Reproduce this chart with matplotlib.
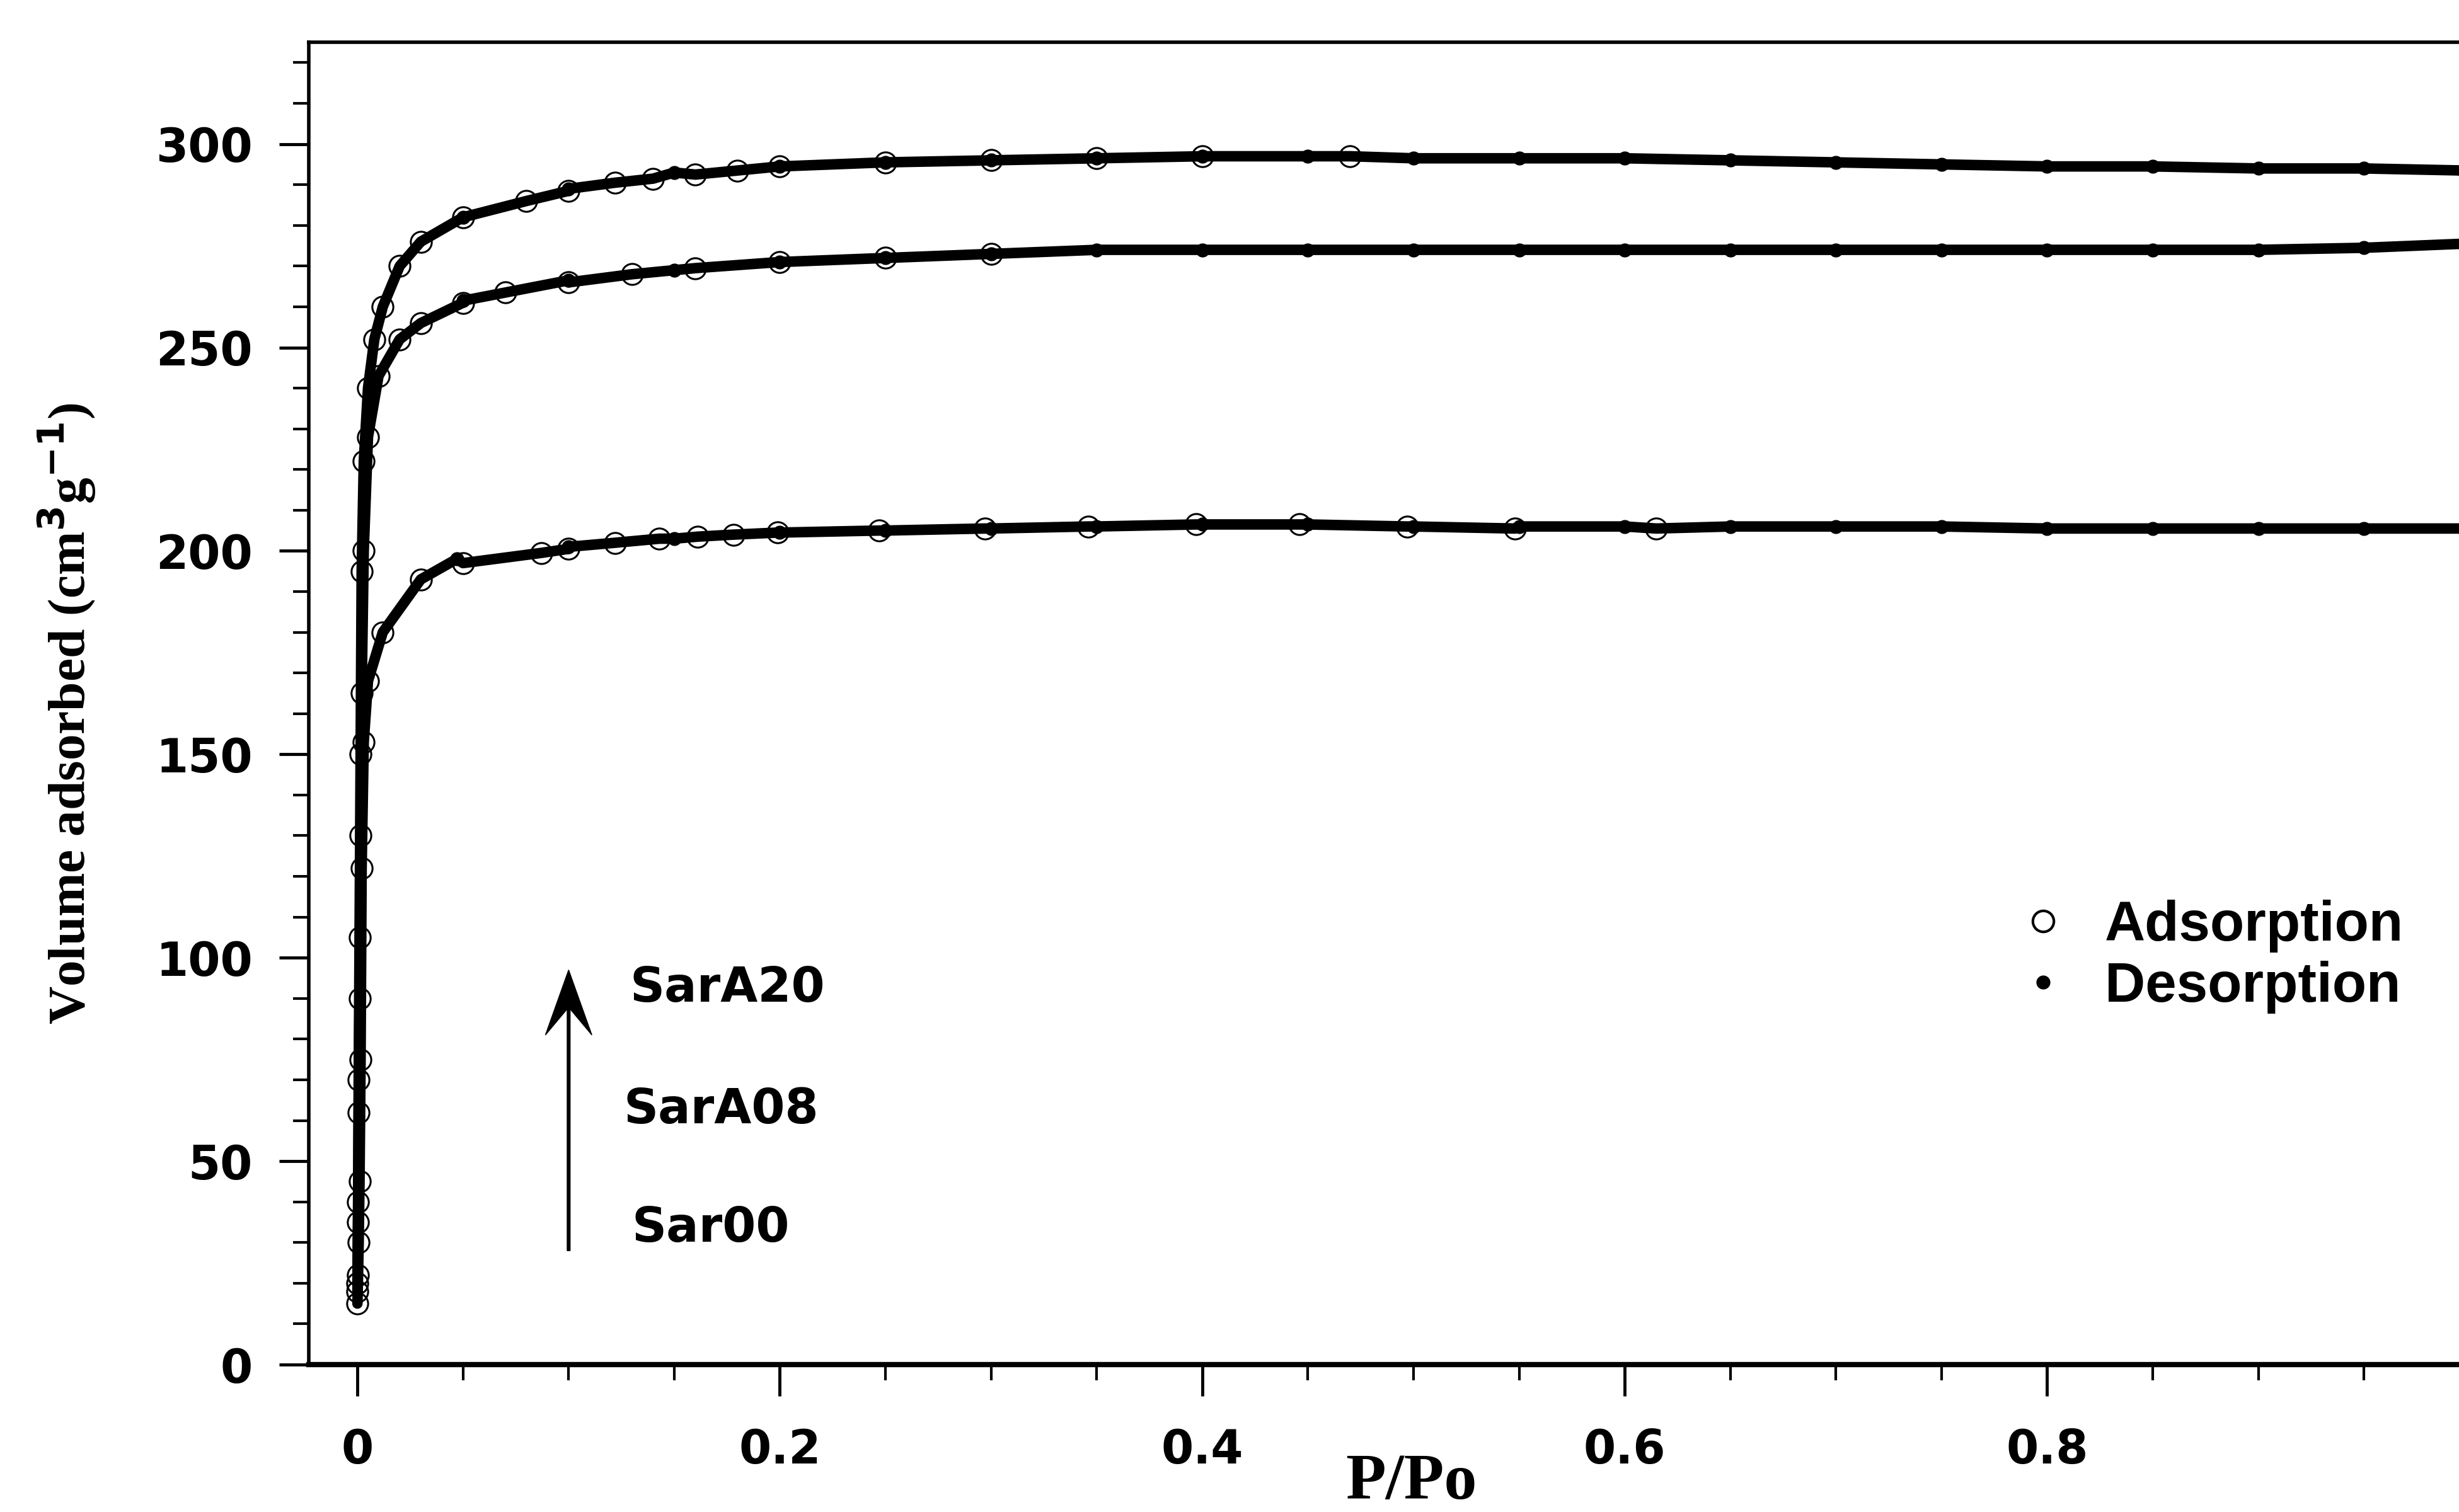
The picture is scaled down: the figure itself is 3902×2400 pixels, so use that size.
import matplotlib
matplotlib.use('Agg')
import matplotlib.pyplot as plt
from matplotlib.lines import Line2D
from matplotlib.ticker import MultipleLocator
import numpy as np

# N2 isotherms at 77 K, volume adsorbed vs relative pressure
p_ads_sar00 = [0.0, 0.0003, 0.0006, 0.001, 0.0015, 0.002, 0.003, 0.005, 0.012,
               0.03, 0.05, 0.087, 0.10, 0.122, 0.143, 0.161, 0.178, 0.199,
               0.247, 0.297, 0.346, 0.397, 0.446, 0.497, 0.548, 0.615]
v_ads_sar00 = [15, 22, 30, 45, 75, 122, 153, 168, 180,
               193, 197, 199.5, 200.5, 202, 203, 203.5, 204, 204.5,
               205, 205.5, 206, 206.5, 206.5, 206, 205.5, 205.5]
p_des_sar00 = [0.997, 0.95, 0.90, 0.85, 0.80, 0.75, 0.70, 0.65, 0.60, 0.55,
               0.50, 0.45, 0.40, 0.35, 0.30, 0.25, 0.20, 0.15, 0.10, 0.047]
v_des_sar00 = [205.5, 205.5, 205.5, 205.5, 205.5, 206, 206, 206, 206, 206,
               206, 206.5, 206.5, 206, 205.5, 205, 204.5, 203, 201, 198]

p_ads_sara08 = [0.0, 0.0003, 0.0006, 0.001, 0.0015, 0.002, 0.003, 0.005, 0.01,
                0.02, 0.03, 0.05, 0.07, 0.10, 0.13, 0.16, 0.20, 0.25, 0.30]
v_ads_sara08 = [18, 35, 62, 90, 130, 165, 200, 228, 243,
                252, 256, 261, 263.5, 266, 268, 269.5, 271, 272, 273]
p_des_sara08 = [0.997, 0.95, 0.90, 0.85, 0.80, 0.75, 0.70, 0.65, 0.60, 0.55,
                0.50, 0.45, 0.40, 0.35, 0.30, 0.25, 0.20, 0.15, 0.10, 0.05]
v_des_sara08 = [275.5, 274.5, 274, 274, 274, 274, 274, 274, 274, 274,
                274, 274, 274, 274, 273, 272, 271, 269, 266.5, 261.5]

p_ads_sara20 = [0.0, 0.0003, 0.0006, 0.001, 0.0015, 0.002, 0.003, 0.005, 0.008,
                0.012, 0.02, 0.03, 0.05, 0.08, 0.10, 0.122, 0.14, 0.16, 0.18,
                0.20, 0.25, 0.30, 0.35, 0.40, 0.47]
v_ads_sara20 = [20, 40, 70, 105, 150, 195, 222, 240, 252,
                260, 270, 276, 282, 286, 288.5, 290.5, 291.5, 292.5, 293.5,
                294.5, 295.5, 296, 296.5, 297, 297]
p_des_sara20 = [0.997, 0.95, 0.90, 0.85, 0.80, 0.75, 0.70, 0.65, 0.60, 0.55,
                0.50, 0.45, 0.40, 0.35, 0.30, 0.25, 0.20, 0.15, 0.10, 0.05]
v_des_sara20 = [293.5, 294, 294, 294.5, 294.5, 295, 295.5, 296, 296.5, 296.5,
                296.5, 297, 297, 296.5, 296, 295.5, 294.5, 293, 289, 282]

samples = [
    (p_ads_sar00, v_ads_sar00, p_des_sar00, v_des_sar00),
    (p_ads_sara08, v_ads_sara08, p_des_sara08, v_des_sara08),
    (p_ads_sara20, v_ads_sara20, p_des_sara20, v_des_sara20),
]
sample_labels = ['Sar00', 'SarA08', 'SarA20']
sample_label_pos = [(0.130, 33.5), (0.126, 62.5), (0.129, 92.5)]

SANS = 'DejaVu Sans'
SERIF = 'Liberation Serif'

fig = plt.figure(figsize=(39.02, 24), dpi=100)
ax = fig.add_axes([0.1256, 0.0975, 0.8744, 0.8745])

for p_a, v_a, p_d, v_d in samples:
    p_all = np.concatenate([p_a, p_d])
    v_all = np.concatenate([v_a, v_d])
    order = np.argsort(p_all)
    ax.plot(p_all[order], v_all[order], color='black', lw=12,
            solid_capstyle='round', zorder=2)
    ax.plot(p_a, v_a, 'o', ms=24, mfc='none', mec='black', mew=2.2, zorder=3)
    ax.plot(p_d, v_d, 'o', ms=15, mfc='black', mec='black', zorder=3)

ax.set_xlim(-0.023, 0.995)
ax.set_ylim(0, 325)

ax.xaxis.set_minor_locator(MultipleLocator(0.05))
ax.yaxis.set_major_locator(MultipleLocator(50))
ax.yaxis.set_minor_locator(MultipleLocator(10))
ax.set_xticks([0, 0.2, 0.4, 0.6, 0.8])
ax.set_xticklabels(['0', '0.2', '0.4', '0.6', '0.8'])

ax.tick_params(which='major', direction='out', length=34, width=3.5,
               labelsize=53, pad=30)
ax.tick_params(which='minor', direction='out', length=18, width=3)
ax.tick_params(axis='x', which='major', length=36, pad=36)
ax.tick_params(top=False, right=False)
for lab in ax.get_xticklabels() + ax.get_yticklabels():
    lab.set_fontfamily(SANS)
    lab.set_fontweight('bold')

ax.spines['right'].set_visible(False)
ax.spines['left'].set_linewidth(4)
ax.spines['top'].set_linewidth(4)
ax.spines['bottom'].set_linewidth(6)

# series order arrow
ax.arrow(0.1, 28, 0, 69, width=0.0014, head_width=0.022, head_length=16,
         overhang=0.4, length_includes_head=True, color='black', zorder=4)
for name, (x, y) in zip(sample_labels, sample_label_pos):
    ax.text(x, y, name, fontsize=55, fontweight='bold', family=SANS,
            ha='left', va='center')

handles = [
    Line2D([], [], ls='none', marker='o', ms=24, mfc='none', mec='black', mew=3),
    Line2D([], [], ls='none', marker='o', ms=15, mfc='black', mec='black'),
]
fig.legend(handles, ['Adsorption', 'Desorption'], loc='upper left',
           bbox_to_anchor=(0.824, 0.405), frameon=False,
           prop={'family': 'Liberation Sans', 'weight': 'bold', 'size': 64},
           handlelength=0.6, handletextpad=0.8, labelspacing=0.15,
           borderpad=0, borderaxespad=0)

fig.text(0.027, 0.528, 'Volume adsorbed (cm$^{\\mathbf{3}}$g$^{\\mathbf{-1}}$)',
         rotation=90, ha='center', va='center', fontsize=60,
         fontweight='bold', family=SERIF)
fig.text(0.574, 0.019, 'P/Po', ha='center', va='center', fontsize=75,
         fontweight='bold', family=SERIF)

fig.savefig('out.png', dpi=100)
